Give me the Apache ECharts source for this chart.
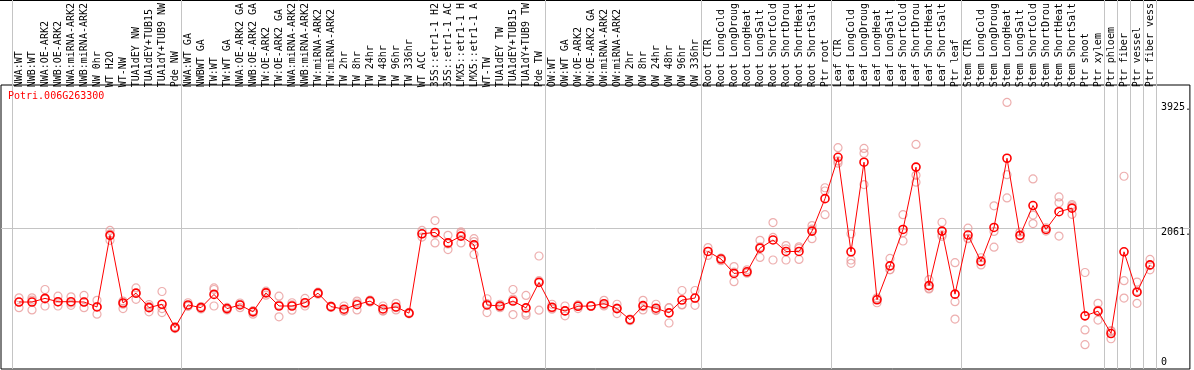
<!DOCTYPE html>
<html>
<head>
<meta charset="utf-8">
<script src="https://cdn.jsdelivr.net/npm/echarts@6.0.0/dist/echarts.min.js"></script>
<style>
  html, body { margin: 0; padding: 0; background: #fff; }
  #chart { width: 1194px; height: 370px; }
</style>
</head>
<body>
<div id="chart"></div>
<script>
// 样本名称（表头竖排标签）
const categories = [
  "NWA:WT", "NWB:WT", "NWA:OE-ARK2", "NWB:OE-ARK2", "NWA:miRNA-ARK2", "NWB:miRNA-ARK2",
  "NW 0hr", "WT H2O", "WT-NW", "TUA1dEY NW", "TUA1dEY+TUB15", "TUA1dY+TUB9 NW", "Pde NW",
  "NWA:WT GA", "NWBWT GA", "TW:WT", "TW:WT GA", "NWA:OE-ARK2 GA", "NWB:OE-ARK2 GA",
  "TW:OE-ARK2", "TW:OE-ARK2 GA", "NWA:miRNA-ARK2", "NWB:miRNA-ARK2", "TW:miRNA-ARK2",
  "TW:miRNA-ARK2", "TW 2hr", "TW 8hr", "TW 24hr", "TW 48hr", "TW 96hr", "TW 336hr",
  "WT ACC", "35S::etr1-1 H2", "35S::etr1-1 AC", "LMX5::etr1-1 H", "LMX5::etr1-1 A",
  "WT-TW", "TUA1dEY TW", "TUA1dEY+TUB15", "TUA1dY+TUB9 TW", "Pde TW",
  "OW:WT", "OW:WT GA", "OW:OE-ARK2", "OW:OE-ARK2 GA", "OW:miRNA-ARK2", "OW:miRNA-ARK2",
  "OW 2hr", "OW 8hr", "OW 24hr", "OW 48hr", "OW 96hr", "OW 336hr",
  "Root CTR", "Root LongCold", "Root LongDroug", "Root LongHeat", "Root LongSalt",
  "Root ShortCold", "Root ShortDrou", "Root ShortHeat", "Root ShortSalt", "Ptr root",
  "Leaf CTR", "Leaf LongCold", "Leaf LongDroug", "Leaf LongHeat", "Leaf LongSalt",
  "Leaf ShortCold", "Leaf ShortDrou", "Leaf ShortHeat", "Leaf ShortSalt", "Ptr leaf",
  "Stem CTR", "Stem LongCold", "Stem LongDroug", "Stem LongHeat", "Stem LongSalt",
  "Stem ShortCold", "Stem ShortDrou", "Stem ShortHeat", "Stem ShortSalt",
  "Ptr shoot", "Ptr xylem", "Ptr phloem", "Ptr fiber", "Ptr vessel", "Ptr fiber vess"
];

// 各组起始样本（竖向分隔线）
const groupStarts = [0, 13, 41, 53, 63, 73, 84, 85, 86, 87];

// 平均值
const meanValues = [
  940, 940, 997, 945, 945, 940, 863, 1983, 925, 1079,
  852, 905, 539, 894, 852, 1059, 837, 894, 786, 1083,
  878, 878, 929, 1079, 868, 828, 898, 955, 832, 863,
  766, 2008, 2029, 1865, 1972, 1834, 894, 878, 955, 848,
  1248, 858, 801, 874, 878, 914, 837, 663, 883, 843,
  771, 971, 1002, 1731, 1613, 1387, 1413, 1783, 1911, 1731,
  1731, 2050, 2558, 3205, 1726, 3128, 975, 1506, 2076, 3051,
  1197, 2050, 1063, 1988, 1576, 2107, 3190, 1983, 2450, 2076,
  2353, 2409, 724, 797, 447, 1726, 1094, 1521
];

// 重复样本
const rep1 = [
  1006, 1006, 1136, 1032, 1022, 1043, 966, 2060, 955, 1160,
  901, 1105, 555, 929, 870, 1160, 855, 925, 801, 1110,
  1032, 929, 997, 1094, 878, 878, 955, 971, 878, 920,
  778, 2060, 2214, 1983, 2039, 1931, 991, 905, 1136, 1043,
  1660, 905, 878, 894, 886, 966, 905, 673, 966, 905,
  852, 1120, 1120, 1792, 1629, 1495, 1444, 1906, 2184, 1823,
  1803, 2137, 2728, 3355, 2008, 3344, 1006, 1623, 2307, 3406,
  1290, 2188, 1556, 2096, 1633, 2446, 4064, 2034, 2866, 2102,
  2584, 2466, 1402, 920, 493, 2908, 1253, 1607
];
const rep2 = [
  940, 971, 986, 940, 925, 940, 868, 2008, 905, 1074,
  871, 837, 539, 878, 852, 1136, 837, 905, 801, 1094,
  894, 894, 914, 1079, 868, 801, 925, 955, 801, 852,
  766, 2008, 2008, 1849, 2014, 1886, 914, 878, 986, 766,
  1274, 843, 801, 889, 878, 897, 846, 667, 866, 807,
  848, 898, 995, 1731, 1624, 1407, 1402, 1803, 1951, 1772,
  1781, 2080, 2677, 3148, 1598, 3267, 991, 1449, 2025, 2923,
  1156, 1993, 945, 1937, 1576, 2045, 2933, 1983, 2301, 2076,
  2492, 2446, 504, 812, 482, 1274, 1110, 1510
];
const rep3 = [
  852, 817, 878, 878, 889, 852, 750, 1906, 837, 982,
  786, 775, 524, 874, 832, 878, 817, 852, 750, 1048,
  709, 812, 878, 1063, 855, 801, 817, 940, 801, 817,
  755, 1957, 1865, 1761, 1865, 1684, 775, 852, 744, 735,
  812, 828, 724, 837, 871, 878, 760, 647, 817, 817,
  612, 894, 889, 1669, 1587, 1259, 1392, 1638, 1598, 1598,
  1607, 1931, 2307, 3113, 1546, 2778, 929, 1444, 1895, 2815,
  1145, 1968, 673, 1931, 1521, 1798, 2569, 1931, 2168, 2050,
  1972, 2312, 273, 658, 365, 1002, 920, 1444
];

// 右侧刻度
const yTickValues = [0, 2061, 3925];
const yTickLabels = ["0", "2061.", "3925."];

const geneName = "Potri.006G263300";

const Y_MIN = -108;
const Y_MAX = 4269;
const FONT = "DejaVu Sans Mono";

const repColor = "#e89a9a";
const mainColor = "#ff0000";

const options = {
  animation: false,
  backgroundColor: "#fff",
  title: {
    text: geneName,
    left: 8,
    top: 91,
    padding: 0,
    textStyle: { color: mainColor, fontSize: 10, fontFamily: FONT, fontWeight: "normal" },
  },
  grid: [
    // 外框
    { left: 1, right: 2, top: 85, bottom: 1, show: true, borderColor: "#000", borderWidth: 1, backgroundColor: "transparent" },
    // 分组竖线（贯穿表头）
    { left: 12.5, right: 37.5, top: 0, bottom: 1 },
    // 数据区
    { left: 12.5, right: 37.5, top: 85, bottom: 1 },
  ],
  xAxis: [
    { gridIndex: 0, type: "value", min: 0, max: 1, show: false },
    {
      gridIndex: 1,
      type: "category",
      data: categories,
      boundaryGap: true,
      axisLine: { show: false },
      axisTick: { show: false },
      axisLabel: { show: false },
      splitLine: {
        show: true,
        interval: (idx) => groupStarts.includes(idx),
        lineStyle: { color: "#c4c4c4", width: 1 },
      },
    },
    {
      gridIndex: 2,
      type: "category",
      position: "top",
      data: categories,
      boundaryGap: true,
      axisLine: { show: false },
      axisTick: { show: false },
      splitLine: { show: false },
      axisLabel: {
        interval: 0,
        rotate: 90,
        margin: 2,
        color: "#000",
        fontSize: 10,
        fontFamily: FONT,
      },
    },
  ],
  yAxis: [
    {
      gridIndex: 0,
      type: "value",
      min: Y_MIN,
      max: Y_MAX,
      position: "right",
      axisLine: { show: false },
      axisTick: { show: false, customValues: [2061] },
      axisLabel: {
        inside: true,
        margin: 29,
        align: "left",
        customValues: yTickValues,
        color: "#000",
        fontSize: 10,
        fontFamily: FONT,
        formatter: (v) => {
          const s = yTickLabels[yTickValues.indexOf(v)];
          return v === 2061 ? "{low|" + s + "}" : s;
        },
        rich: { low: { padding: [9, 0, 0, 0], fontSize: 10, fontFamily: FONT, color: "#000" } },
      },
      splitLine: { show: true, lineStyle: { color: "#c4c4c4", width: 1 } },
    },
    { gridIndex: 1, type: "value", show: false, splitLine: { show: false } },
    { gridIndex: 2, type: "value", min: Y_MIN, max: Y_MAX, show: false, splitLine: { show: false } },
  ],
  graphic: [
    { type: "line", shape: { x1: 0, y1: 0.5, x2: 1194, y2: 0.5 }, style: { stroke: "#000", lineWidth: 1 }, silent: true },
  ],
  series: [
    ...[rep1, rep2, rep3].map((d) => ({
      type: "scatter",
      xAxisIndex: 2,
      yAxisIndex: 2,
      data: d,
      symbol: "circle",
      symbolSize: 8,
      silent: true,
      z: 2,
      itemStyle: { color: "rgba(0,0,0,0)", borderColor: repColor, borderWidth: 1.2 },
    })),
    {
      type: "line",
      xAxisIndex: 2,
      yAxisIndex: 2,
      data: meanValues,
      symbol: "circle",
      symbolSize: 8,
      showAllSymbol: true,
      silent: true,
      z: 3,
      lineStyle: { color: mainColor, width: 1 },
      itemStyle: { color: "rgba(0,0,0,0)", borderColor: mainColor, borderWidth: 1.6 },
    },
  ],
};

const chart = echarts.init(document.getElementById("chart"));
chart.setOption(options);
window.addEventListener("resize", () => chart.resize());
</script>
</body>
</html>
